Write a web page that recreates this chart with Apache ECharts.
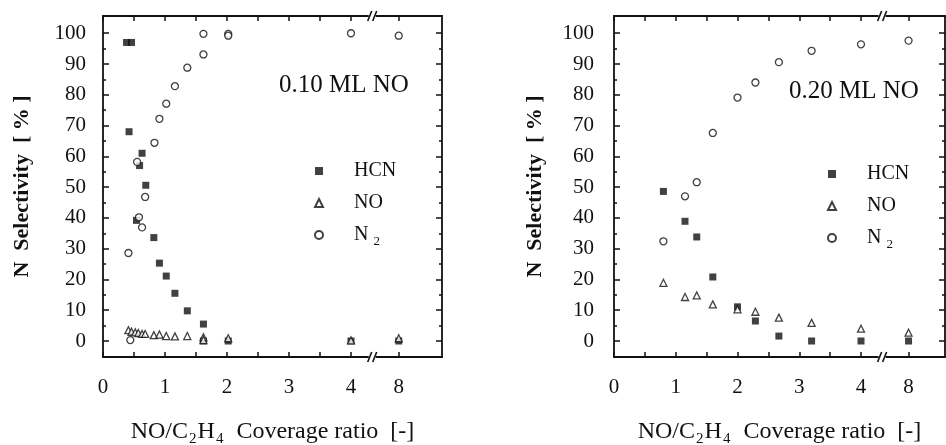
<!DOCTYPE html>
<html>
<head>
<meta charset="utf-8">
<script src="https://cdn.jsdelivr.net/npm/echarts@6/dist/echarts.min.js"></script>
<style>
  html, body { margin: 0; padding: 0; background: #fff; }
  #chart { width: 946px; height: 445px; }
</style>
</head>
<body>
<div id="chart"></div>
<script>
// ---- 0.10 ML NO panel ----
const hcnLowX = [0.38, 0.46, 0.42, 0.63, 0.59, 0.69, 0.54, 0.82, 0.91, 1.02, 1.16, 1.36, 1.62, 1.62, 2.02, 4, 8];
const hcnLowY = [97, 97, 68, 61, 57, 50.6, 39.2, 33.6, 25.3, 21.1, 15.5, 9.8, 5.5, 0, 0, 0, 0];
const noLowX = [0.41, 0.46, 0.52, 0.57, 0.63, 0.68, 0.82, 0.91, 1.02, 1.16, 1.36, 1.62, 1.62, 2.02, 4, 8];
const noLowY = [3.5, 3.0, 2.8, 2.6, 2.3, 2.3, 1.9, 2.1, 1.6, 1.5, 1.6, 1.2, 0.3, 0.9, 0.2, 0.9];
const n2LowX = [0.41, 0.44, 0.55, 0.58, 0.63, 0.68, 0.83, 0.91, 1.02, 1.16, 1.36, 1.62, 1.62, 2.02, 2.02, 4, 8];
const n2LowY = [28.6, 0.3, 58.2, 40.2, 36.9, 46.8, 64.4, 72.2, 77.1, 82.8, 88.8, 93.1, 99.8, 99.8, 99.2, 100, 99.2];

// ---- 0.20 ML NO panel ----
const ratioHighX = [0.80, 1.15, 1.34, 1.60, 2.00, 2.29, 2.67, 3.20, 4, 8];
const hcnHighY = [48.6, 38.9, 33.8, 20.8, 11.1, 6.5, 1.6, 0, 0, 0];
const noHighY = [18.9, 14.3, 14.8, 11.9, 10.3, 9.5, 7.6, 5.9, 4.0, 2.7];
const n2HighY = [32.4, 47.0, 51.6, 67.6, 79.1, 84.0, 90.6, 94.3, 96.4, 97.6];

// ---- axis ticks ----
const xTickLabels = [0, 1, 2, 3, 4, 8];
const xMinorTicks = [0.5, 1.5, 2.5, 3.5];
const yTickLabels = [0, 10, 20, 30, 40, 50, 60, 70, 80, 90, 100];
const yMinorTicks = [5, 15, 25, 35, 45, 55, 65, 75, 85, 95];
const panelTitles = ['0.10 ML NO', '0.20 ML NO'];

// Broken x axis: 0..4 is linear, the segment past the break is compressed.
const BREAK_AT = 4.35;
function axisPos(v) { return v <= 4 ? v : 4 + (v - 4) * 0.1925; }
function axisValue(p) { return p <= 4 ? p : Math.round(4 + (p - 4) / 0.1925); }

const SERIF = 'Liberation Serif';
const INK = '#111';

const xTickPos = [0, 1, 2, 3, 4, axisPos(8)].concat(xMinorTicks);
const xLabelPos = xTickLabels.map(axisPos);

const grids = [
  { left: 103, top: 16, width: 339, height: 341, outerBoundsMode: 'none' },
  { left: 614, top: 16, width: 331, height: 341, outerBoundsMode: 'none' }
];
const xMax = [339 / 62, 331 / 61.75];
const Y_MIN = -5.2, Y_MAX = 105.6;

const axisLine = { show: true, onZero: false, lineStyle: { color: INK, width: 1.8 } };
const noLine = { show: false, onZero: false };

const xAxes = [];
const yAxes = [];
grids.forEach((g, gi) => {
  // bottom axis with labels
  xAxes.push({
    type: 'value', gridIndex: gi, position: 'bottom', min: 0, max: xMax[gi],
    axisLine: axisLine, splitLine: { show: false },
    axisTick: { show: true, inside: true, length: 5, customValues: xTickPos, lineStyle: { color: INK, width: 1.5 } },
    axisLabel: {
      show: true, customValues: xLabelPos, margin: 20,
      fontFamily: SERIF, fontSize: 21, color: INK,
      formatter: v => String(axisValue(v))
    },
    name: '{t|NO/C}{s|2}{t|H}{s|4}{t|  Coverage ratio  [-]}',
    nameLocation: 'middle', nameGap: 59,
    nameTextStyle: {
      rich: {
        t: { fontFamily: SERIF, fontSize: 24, color: INK },
        s: { fontFamily: SERIF, fontSize: 15, color: INK, padding: [16, 1, 0, 1] }
      }
    }
  });
  // top frame axis
  xAxes.push({
    type: 'value', gridIndex: gi, position: 'top', min: 0, max: xMax[gi],
    axisLine: axisLine, splitLine: { show: false },
    axisTick: { show: true, inside: true, length: 5, customValues: xTickPos, lineStyle: { color: INK, width: 1.5 } },
    axisLabel: { show: false }
  });
  // left axis: major ticks + labels
  yAxes.push({
    type: 'value', gridIndex: gi, position: 'left', min: Y_MIN, max: Y_MAX,
    axisLine: axisLine, splitLine: { show: false },
    axisTick: { show: true, inside: true, length: 6, customValues: yTickLabels, lineStyle: { color: INK, width: 1.5 } },
    axisLabel: {
      show: true, customValues: yTickLabels, margin: gi === 0 ? 17 : 20,
      fontFamily: SERIF, fontSize: 21, color: INK
    },
    name: 'N  Selectivity  [ % ]',
    nameLocation: 'middle', nameGap: gi === 0 ? 70 : 68,
    nameTextStyle: { fontFamily: SERIF, fontSize: 22, fontWeight: 'bold', color: INK }
  });
  // left axis: minor ticks
  yAxes.push({
    type: 'value', gridIndex: gi, position: 'left', min: Y_MIN, max: Y_MAX,
    axisLine: noLine, splitLine: { show: false },
    axisTick: { show: true, inside: true, length: 3, customValues: yMinorTicks, lineStyle: { color: INK, width: 1.5 } },
    axisLabel: { show: false }
  });
  // right frame axis: major ticks
  yAxes.push({
    type: 'value', gridIndex: gi, position: 'right', min: Y_MIN, max: Y_MAX,
    axisLine: axisLine, splitLine: { show: false },
    axisTick: { show: true, inside: true, length: 6, customValues: yTickLabels, lineStyle: { color: INK, width: 1.5 } },
    axisLabel: { show: false }
  });
  // right frame axis: minor ticks
  yAxes.push({
    type: 'value', gridIndex: gi, position: 'right', min: Y_MIN, max: Y_MAX,
    axisLine: noLine, splitLine: { show: false },
    axisTick: { show: true, inside: true, length: 3, customValues: yMinorTicks, lineStyle: { color: INK, width: 1.5 } },
    axisLabel: { show: false }
  });
});

const styles = {
  HCN: { symbol: 'rect', symbolSize: 7, itemStyle: { color: INK, borderWidth: 0 } },
  NO: { symbol: 'triangle', symbolSize: 7, itemStyle: { color: '#fff', borderColor: INK, borderWidth: 1.3 } },
  N2: { symbol: 'circle', symbolSize: 7, itemStyle: { color: '#fff', borderColor: INK, borderWidth: 1.3 } }
};

function pairs(xs, ys) { return xs.map((x, i) => [axisPos(x), ys[i]]); }

function scatter(name, gi, data) {
  return Object.assign({
    type: 'scatter', name: name, data: data,
    xAxisIndex: gi * 2, yAxisIndex: gi * 4,
    emphasis: { disabled: true }, silent: true, animation: false
  }, styles[name]);
}

const series = [
  scatter('HCN', 0, pairs(hcnLowX, hcnLowY)),
  scatter('NO', 0, pairs(noLowX, noLowY)),
  scatter('N2', 0, pairs(n2LowX, n2LowY)),
  scatter('HCN', 1, pairs(ratioHighX, hcnHighY)),
  scatter('NO', 1, pairs(ratioHighX, noHighY)),
  scatter('N2', 1, pairs(ratioHighX, n2HighY))
];

function legendAt(left, top) {
  return {
    orient: 'vertical', left: left, top: top,
    data: ['HCN', 'NO', 'N2'],
    itemWidth: 8, itemHeight: 8, itemGap: 12,
    selectedMode: false,
    formatter: n => n === 'N2' ? '{m|N}{s|2}' : '{m|' + n + '}',
    textStyle: {
      padding: [0, 0, 0, 26],
      rich: {
        m: { fontFamily: SERIF, fontSize: 20, color: INK, lineHeight: 24 },
        s: { fontFamily: SERIF, fontSize: 13, color: INK, padding: [14, 0, 0, 5] }
      }
    }
  };
}

const chart = echarts.init(document.getElementById('chart'), null, { renderer: 'canvas' });
chart.setOption({
  backgroundColor: '#fff',
  animation: false,
  title: [
    { text: panelTitles[0], left: 274, top: 68, textStyle: { fontFamily: SERIF, fontSize: 25, fontWeight: 'normal', color: INK } },
    { text: panelTitles[1], left: 784, top: 74, textStyle: { fontFamily: SERIF, fontSize: 25, fontWeight: 'normal', color: INK } }
  ],
  grid: grids,
  xAxis: xAxes,
  yAxis: yAxes,
  legend: [legendAt(309, 156), legendAt(822, 159)],
  series: series
});

// "//" break marks on the top and bottom frame lines
const marks = [];
grids.forEach((g, gi) => {
  const top = chart.convertToPixel({ gridIndex: gi }, [BREAK_AT, Y_MAX]);
  const bot = chart.convertToPixel({ gridIndex: gi }, [BREAK_AT, Y_MIN]);
  [top, bot].forEach(p => {
    const x = p[0], y = p[1];
    marks.push({ type: 'rect', shape: { x: x - 4, y: y - 2, width: 7, height: 4 }, style: { fill: '#fff' }, z: 100 });
    marks.push({ type: 'line', shape: { x1: x - 5, y1: y + 5, x2: x - 1, y2: y - 5 }, style: { stroke: INK, lineWidth: 1.6 }, z: 101 });
    marks.push({ type: 'line', shape: { x1: x + 0, y1: y + 5, x2: x + 4, y2: y - 5 }, style: { stroke: INK, lineWidth: 1.6 }, z: 101 });
  });
});
chart.setOption({ graphic: marks });
</script>
</body>
</html>
